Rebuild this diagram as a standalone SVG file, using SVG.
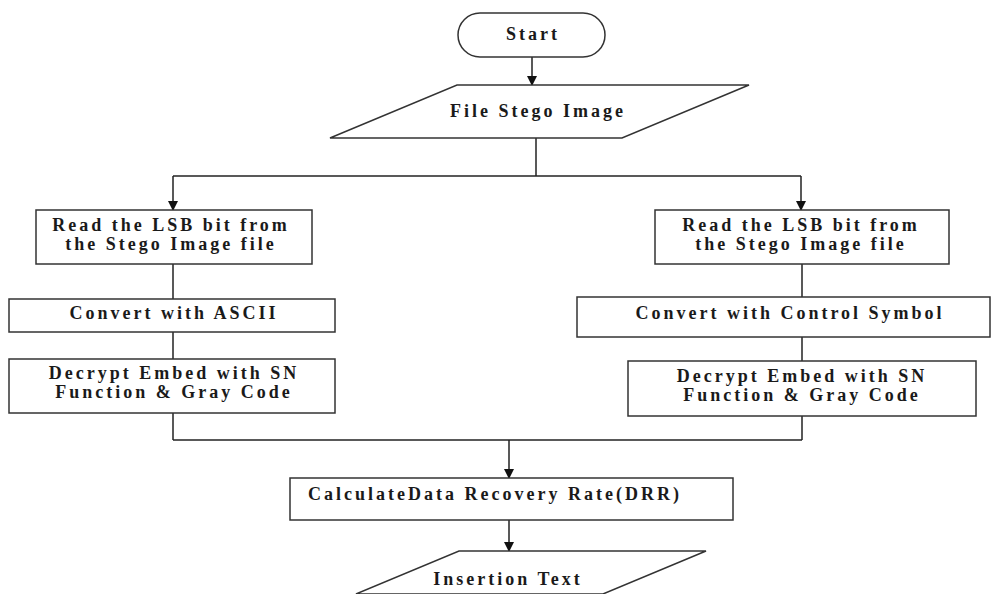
<svg xmlns="http://www.w3.org/2000/svg" width="992" height="594" viewBox="0 0 992 594">
<defs>
<marker id="ah" markerWidth="10" markerHeight="10" refX="9" refY="5" orient="auto" markerUnits="userSpaceOnUse">
<path d="M0,0 L10,5 L0,10 Z" fill="#111"/>
</marker>
<style>
.n{fill:#fff;stroke:#333;stroke-width:1.5}
.c{fill:none;stroke:#222;stroke-width:1.5}
text{font-family:"Liberation Serif","Times New Roman",serif;font-size:18px;font-weight:bold;fill:#1a1a1a;text-anchor:middle;letter-spacing:3px}
</style>
</defs>
<rect width="992" height="594" fill="#fff"/>
<g id="connectors">
<line class="c" x1="532" y1="57" x2="532" y2="85" marker-end="url(#ah)"/>
<polyline class="c" points="536,138 536,176"/>
<polyline class="c" points="173,176 801,176"/>
<line class="c" x1="173" y1="176" x2="173" y2="210" marker-end="url(#ah)"/>
<line class="c" x1="801" y1="176" x2="801" y2="210" marker-end="url(#ah)"/>
<line class="c" x1="173" y1="264" x2="173" y2="299"/>
<line class="c" x1="173" y1="332" x2="173" y2="359"/>
<line class="c" x1="173" y1="413" x2="173" y2="440"/>
<line class="c" x1="802" y1="264" x2="802" y2="297"/>
<line class="c" x1="802" y1="337" x2="802" y2="361"/>
<line class="c" x1="802" y1="416" x2="802" y2="440"/>
<polyline class="c" points="173,440 802,440"/>
<line class="c" x1="509" y1="440" x2="509" y2="478" marker-end="url(#ah)"/>
<line class="c" x1="509" y1="520" x2="509" y2="551" marker-end="url(#ah)"/>
</g>
<g id="start">
<rect class="n" x="458" y="13" width="147" height="44" rx="22"/>
<text x="533" y="40">Start</text>
</g>
<g id="file-stego-image">
<polygon class="n" points="457,85 749,85 622,138 330,138"/>
<text x="538" y="117">File Stego Image</text>
</g>
<g id="read-left">
<rect class="n" x="36" y="210" width="276" height="54"/>
<text x="171" y="231">Read the LSB bit from</text>
<text x="171" y="250">the Stego Image file</text>
</g>
<g id="convert-ascii">
<rect class="n" x="9" y="299" width="326" height="33"/>
<text x="174" y="319">Convert with ASCII</text>
</g>
<g id="decrypt-left">
<rect class="n" x="9" y="359" width="326" height="54"/>
<text x="174" y="379">Decrypt Embed with SN</text>
<text x="174" y="398">Function &amp; Gray Code</text>
</g>
<g id="read-right">
<rect class="n" x="655" y="210" width="294" height="54"/>
<text x="801" y="231">Read the LSB bit from</text>
<text x="801" y="250">the Stego Image file</text>
</g>
<g id="convert-control">
<rect class="n" x="577" y="297" width="413" height="40"/>
<text x="790" y="319">Convert with Control Symbol</text>
</g>
<g id="decrypt-right">
<rect class="n" x="628" y="361" width="348" height="55"/>
<text x="802" y="382">Decrypt Embed with SN</text>
<text x="802" y="401">Function &amp; Gray Code</text>
</g>
<g id="calculate-drr">
<rect class="n" x="290" y="478" width="443" height="42"/>
<text x="308" y="500" style="text-anchor:start">CalculateData Recovery Rate(DRR)</text>
</g>
<g id="insertion-text">
<polygon class="n" points="459,551 706,551 603,594 356,594"/>
<text x="508" y="585">Insertion Text</text>
</g>
</svg>
